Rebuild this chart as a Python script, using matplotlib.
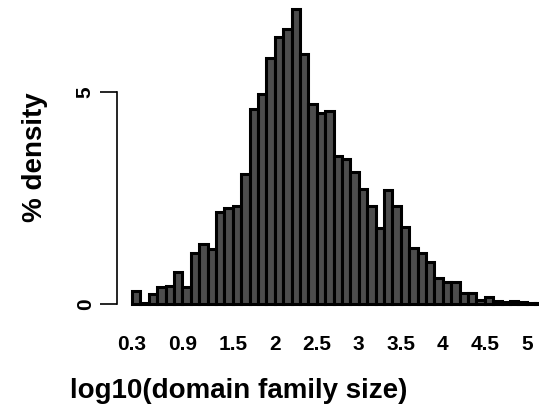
import numpy as np
import matplotlib
matplotlib.use('Agg')
import matplotlib.pyplot as plt

plt.rcParams['font.family'] = ['Liberation Sans', 'DejaVu Sans']
plt.rcParams['font.weight'] = 'bold'

# histogram of log10(domain family size), bins of width 0.1 starting at 0.3
bin_start = 0.3
bin_width = 0.1
density = [0.31, 0.02, 0.24, 0.40, 0.42, 0.75, 0.40, 1.20, 1.41, 1.29,
           2.17, 2.26, 2.31, 3.06, 4.60, 4.95, 5.80, 6.30, 6.49, 6.96,
           5.90, 4.72, 4.50, 4.55, 3.49, 3.42, 3.11, 2.71, 2.31, 1.79,
           2.69, 2.31, 1.82, 1.32, 1.20, 0.99, 0.61, 0.52, 0.52, 0.26,
           0.26, 0.09, 0.17, 0.07, 0.05, 0.07, 0.04, 0.03, 0.03]
x_ticks = [0.3, 0.9, 1.5, 2, 2.5, 3, 3.5, 4, 4.5, 5]
x_labels = ['0.3', '0.9', '1.5', '2', '2.5', '3', '3.5', '4', '4.5', '5']
y_ticks = [0, 5]

edges = bin_start + bin_width * np.arange(len(density))

W, H = 539, 405
L, B = 117, 310  # axes left / bottom in pixels
fig = plt.figure(figsize=(W / 100, H / 100), dpi=100)
ax = fig.add_axes([L / W, 1 - B / H, 1 - L / W, B / H])

ax.bar(edges, density, width=bin_width, align='edge',
       color='#4d4d4d', edgecolor='black', linewidth=2.2)

ax.set_xlim(0.1214, 5.145)
ax.set_ylim(-0.1415, 7.17)

for s in ['top', 'right', 'bottom']:
    ax.spines[s].set_visible(False)
ax.spines['left'].set_bounds(0, 5)
ax.spines['left'].set_linewidth(1.2)

ax.set_yticks(y_ticks)
ax.set_yticklabels([str(t) for t in y_ticks], rotation=90, va='center',
                   fontsize=15, fontweight='bold')
ax.tick_params(axis='y', length=12, width=1.2, pad=4)

ax.set_xticks(x_ticks)
ax.set_xticklabels(x_labels, fontsize=15, fontweight='bold')
ax.tick_params(axis='x', length=0, pad=18)

ax.set_xlabel('log10(domain family size)', fontsize=20, fontweight='bold')
ax.xaxis.set_label_coords((239 - L) / (W - L), (B - 378) / B)
ax.set_ylabel('% density', fontsize=20, fontweight='bold')
ax.yaxis.set_label_coords((48 - L) / (W - L), (B - 157) / B)

fig.savefig('out.png', dpi=100)
